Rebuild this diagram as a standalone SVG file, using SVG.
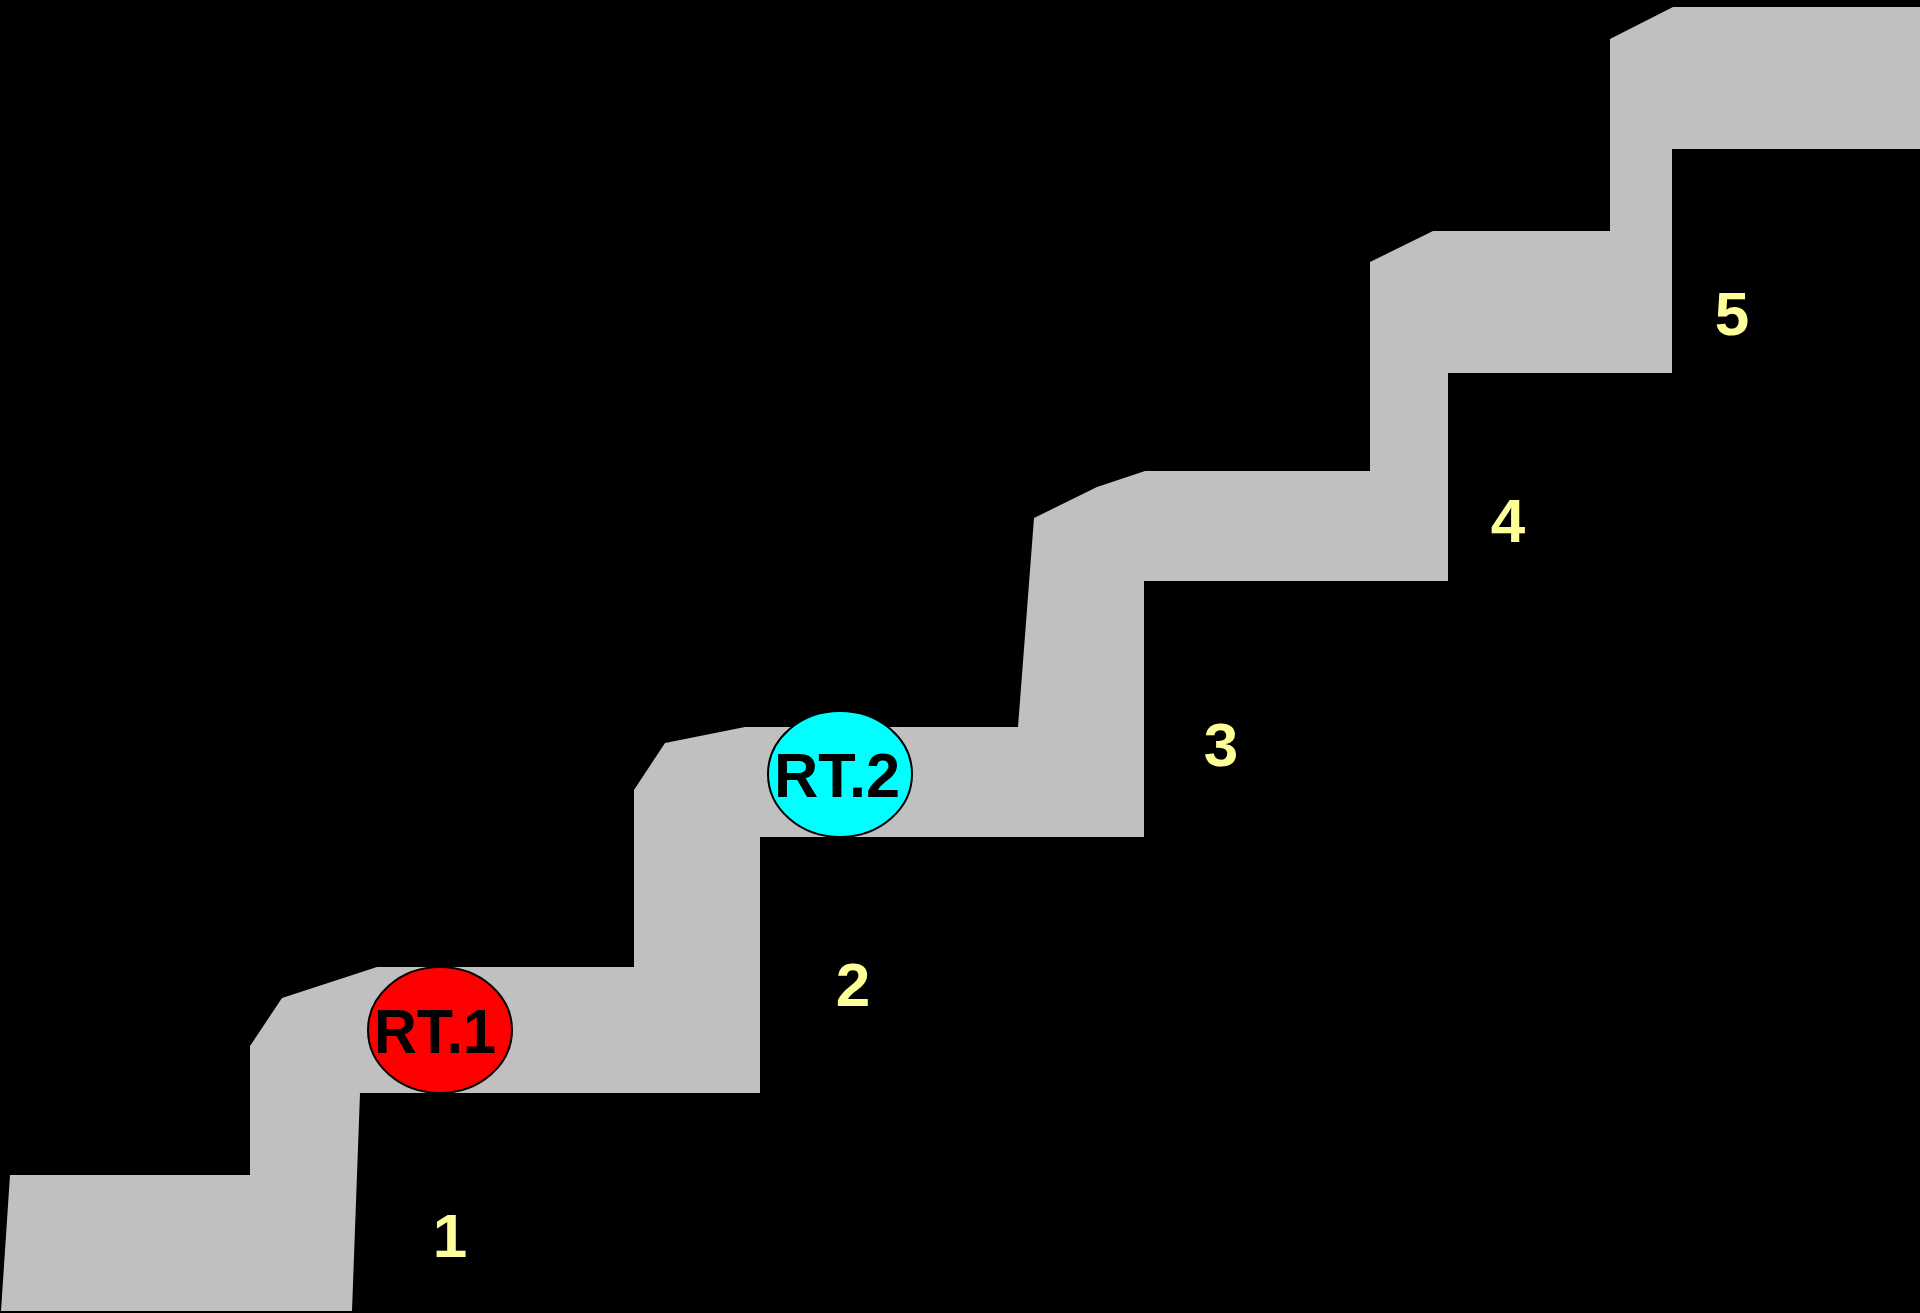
<svg xmlns="http://www.w3.org/2000/svg" width="1920" height="1313" viewBox="0 0 1920 1313">
<style>
.step{fill:#C0C0C0;stroke:none}
.node{stroke:#000;stroke-width:2}
.lbl{font-family:"Liberation Sans",Arial,sans-serif;font-weight:bold;font-size:63px;text-anchor:middle;fill:#000}
.num{font-family:"Liberation Sans",Arial,sans-serif;font-weight:bold;font-size:62px;text-anchor:middle;fill:#FFFF99}
</style>
<rect x="0" y="0" width="1920" height="1313" fill="#000"/>
<g id="stairs">
<polygon class="step" points="1,1311 10,1175 250,1175 250,1046 282,998 377,967 634,967 634,790 665,743 745,727 1018,727 1034,518 1097,487 1145,471 1370,471 1370,262 1433,231 1610,231 1610,39 1673,7 1920,7 1920,149 1672,149 1672,373 1448,373 1448,581 1144,581 1144,837 760,837 760,1093 360,1093 352,1311"/>
</g>
<g id="connectors"></g>
<g id="rt1">
<ellipse class="node" cx="440" cy="1030" rx="72" ry="63" fill="#FF0000"/>
<text class="lbl" x="435" y="1053" textLength="122" lengthAdjust="spacingAndGlyphs">RT.1</text>
</g>
<g id="rt2">
<ellipse class="node" cx="840" cy="774" rx="72" ry="63" fill="#00FFFF"/>
<text class="lbl" x="837" y="797" textLength="126" lengthAdjust="spacingAndGlyphs">RT.2</text>
</g>
<g id="n1"><text class="num" x="450" y="1257">1</text></g>
<g id="n2"><text class="num" x="853" y="1006">2</text></g>
<g id="n3"><text class="num" x="1221" y="766">3</text></g>
<g id="n4"><text class="num" x="1508" y="542">4</text></g>
<g id="n5"><text class="num" x="1732" y="335">5</text></g>
</svg>
